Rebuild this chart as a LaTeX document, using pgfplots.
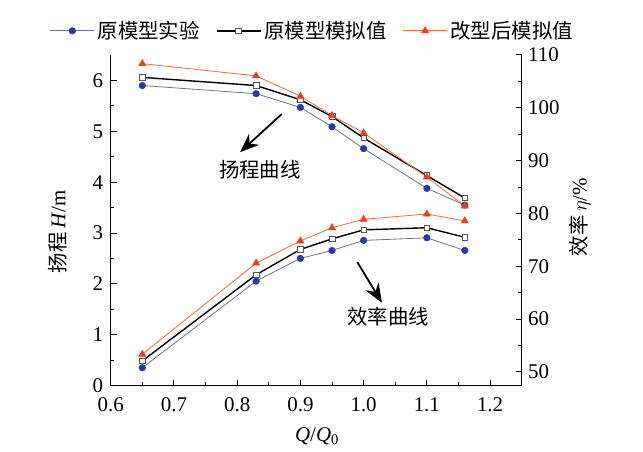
\documentclass[border=0pt]{standalone}
\usepackage{pgfplots}
\pgfplotsset{compat=1.18}
\usepackage{fontspec}
\setmainfont{Liberation Serif}
\newfontfamily\cjk{Noto Sans CJK SC}
\usetikzlibrary{arrows.meta}
\definecolor{cblue}{HTML}{2B36A8}
\definecolor{cblueline}{HTML}{6D7299}
\definecolor{cred}{HTML}{E8401C}
\definecolor{credline}{HTML}{F06A3A}
\definecolor{csqedge}{HTML}{555555}
\newcommand{\fs}{\fontsize{21}{25}\selectfont}
\newcommand{\fc}{\fontsize{20.5}{24}\selectfont\cjk}
\begin{document}
\begin{tikzpicture}
\path[use as bounding box] (-110.7bp,-66.3bp) rectangle (532.3bp,385.7bp);
\begin{axis}[
  at={(0,0)}, anchor=south west, scale only axis,
  width=411bp, height=330.7bp,
  xmin=0.6, xmax=1.25, ymin=0, ymax=6.5,
  axis x line*=bottom, axis y line*=left,
  axis line style={line width=1.1bp, -},
  tick align=inside,
  major tick length=6bp, minor tick length=3.5bp,
  every tick/.style={black, line width=1bp},
  xtick={0.6,0.7,0.8,0.9,1.0,1.1,1.2},
  minor x tick num=1,
  ytick={0,1,2,3,4,5,6},
  minor y tick num=1,
  /pgf/number format/assume math mode=true,
  xticklabel style={/pgf/number format/.cd, fixed, fixed zerofill, precision=1, /tikz/.cd, yshift=-8bp},
  yticklabel style={/pgf/number format/.cd, fixed, precision=0, /tikz/.cd, xshift=-4bp},
  tick label style={font=\fs},
  xlabel={\fs\textit{Q}/\textit{Q}\textsubscript{0}},
  xlabel style={at={(axis description cs:0.502,-0.152)}, anchor=center},
  ylabel={{\fc 扬程}\fs\,\textit{H}/m},
  ylabel style={at={(axis description cs:-0.129,0.465)}, anchor=center},
  legend columns=3,
  legend style={at={(axis description cs:0.491,1.073)}, anchor=center, draw=none, fill=none,
    font=\fc, inner sep=0pt,
    /tikz/every even column/.append style={column sep=14bp},
    /tikz/every odd column/.append style={column sep=1bp}},
  legend image code/.code={\draw[mark repeat=2,mark phase=2,#1] plot coordinates {(0bp,0bp) (22bp,0bp) (44bp,0bp)};},
  clip=false,
]
\addplot[cblueline, line width=0.8bp, mark=*, mark size=3.3bp, mark options={fill=cblue, draw=cblue, line width=0.5bp}]
  coordinates {(0.65,5.90)(0.83,5.74)(0.90,5.47)(0.95,5.09)(1.00,4.66)(1.10,3.88)(1.16,3.55)};
\addlegendentry{原模型实验}
\addplot[black, line width=1.4bp, mark=square*, mark size=2.8bp, mark options={fill=white, draw=csqedge, line width=0.6bp}]
  coordinates {(0.65,6.06)(0.83,5.90)(0.90,5.62)(0.95,5.29)(1.00,4.87)(1.10,4.13)(1.16,3.69)};
\addlegendentry{原模型模拟值}
\addplot[credline, line width=0.8bp, mark=triangle*, mark size=4.2bp, mark options={fill=cred, draw=cred, line width=0.4bp}]
  coordinates {(0.65,6.33)(0.83,6.09)(0.90,5.69)(0.95,5.31)(1.00,4.97)(1.10,4.10)(1.16,3.53)};
\addlegendentry{改型后模拟值}
\draw[line width=1.8bp, -{Stealth[length=19bp, width=15bp]}] (axis cs:0.8706,5.34) -- (axis cs:0.8046,4.59);
\node[font=\fc, anchor=center] at (axis cs:0.836,4.25) {扬程曲线};
\draw[line width=1.8bp, -{Stealth[length=19bp, width=15bp]}] (axis cs:0.990,2.43) -- (axis cs:1.029,1.63);
\node[font=\fc, anchor=center] at (axis cs:1.039,1.36) {效率曲线};
\end{axis}
\begin{axis}[
  at={(0,0)}, anchor=south west, scale only axis,
  width=411bp, height=330.7bp,
  xmin=0.6, xmax=1.25, ymin=47.4, ymax=110,
  axis x line=none, axis y line*=right,
  axis line style={line width=1.1bp, -},
  tick align=inside,
  major tick length=6bp, minor tick length=3.5bp,
  every tick/.style={black, line width=1bp},
  ytick={50,60,70,80,90,100,110},
  minor y tick num=1,
  /pgf/number format/assume math mode=true,
  yticklabel style={xshift=3bp},
  tick label style={font=\fs},
  ylabel={{\fc 效率}\fs\,$\eta$/\%},
  ylabel style={at={(axis description cs:1.142,0.51)}, anchor=center, rotate=0},
  clip=false,
]
\addplot[cblueline, line width=0.8bp, mark=*, mark size=3.3bp, mark options={fill=cblue, draw=cblue, line width=0.5bp}]
  coordinates {(0.65,50.8)(0.83,67.2)(0.90,71.5)(0.95,73.0)(1.00,74.9)(1.10,75.4)(1.16,73.0)};
\addplot[black, line width=1.4bp, mark=square*, mark size=2.8bp, mark options={fill=white, draw=csqedge, line width=0.6bp}]
  coordinates {(0.65,52.1)(0.83,68.4)(0.90,73.2)(0.95,75.2)(1.00,76.9)(1.10,77.3)(1.16,75.5)};
\addplot[credline, line width=0.8bp, mark=triangle*, mark size=4.2bp, mark options={fill=cred, draw=cred, line width=0.4bp}]
  coordinates {(0.65,53.35)(0.83,70.6)(0.90,74.8)(0.95,77.3)(1.00,78.9)(1.10,79.9)(1.16,78.6)};
\end{axis}
\end{tikzpicture}
\end{document}
